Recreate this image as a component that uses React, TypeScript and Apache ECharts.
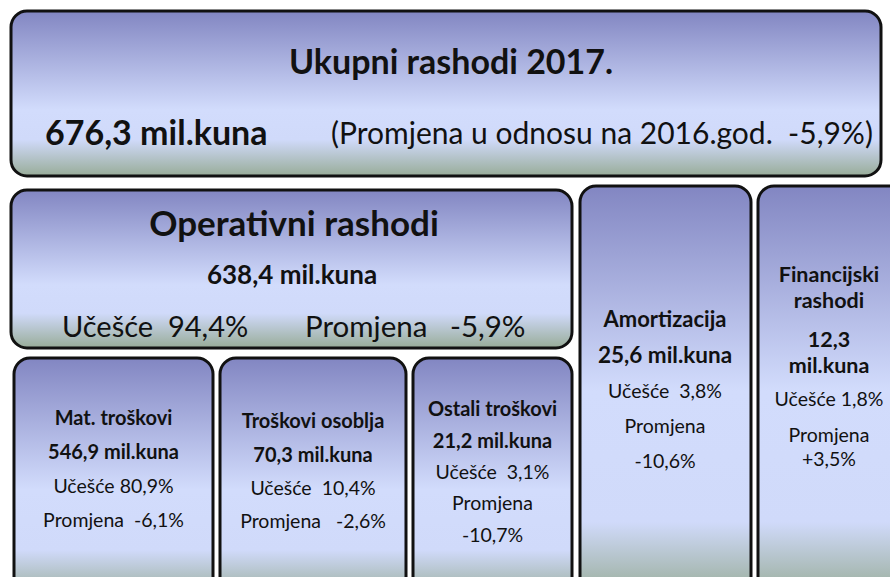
import React, { useEffect, useRef } from "react";
import * as echarts from "echarts";

const FONT = "Lato, 'Open Sans', sans-serif";

// Text content (data)
const totalTitle = "Ukupni rashodi 2017.";
const totalValue = "676,3 mil.kuna";
const totalChange = "(Promjena u odnosu na 2016.god.  -5,9%)";

const opTitle = "Operativni rashodi";
const opValue = "638,4 mil.kuna";
const opShare = "Učešće  94,4%";
const opChange = "Promjena   -5,9%";

const subTitles = ["Mat. troškovi", "Troškovi osoblja", "Ostali troškovi"];
const subValues = ["546,9 mil.kuna", "70,3 mil.kuna", "21,2 mil.kuna"];
const subShares = ["Učešće 80,9%", "Učešće  10,4%", "Učešće  3,1%"];
const subChanges = [["Promjena  -6,1%"], ["Promjena   -2,6%"], ["Promjena", "-10,7%"]];

const amTitle = ["Amortizacija"];
const amValue = ["25,6 mil.kuna"];
const amShare = "Učešće  3,8%";
const amChange = ["Promjena", "-10,6%"];

const finTitle = ["Financijski", "rashodi"];
const finValue = ["12,3", "mil.kuna"];
const finShare = "Učešće 1,8%";
const finChange = ["Promjena", "+3,5%"];

function grad(light: number, green: number) {
  return {
    type: "linear",
    x: 0,
    y: 0,
    x2: 0,
    y2: 1,
    colorStops: [
      { offset: 0, color: "#8286c2" },
      { offset: light, color: "#d2dcfc" },
      { offset: green, color: "#d0dafa" },
      { offset: 1, color: "#98ac98" },
    ],
  };
}

function box(x: number, y: number, w: number, h: number, light = 0.58, green = 0.78) {
  return {
    type: "rect",
    shape: { x, y, width: w, height: h, r: 16 },
    style: { fill: grad(light, green), stroke: "#111111", lineWidth: 3 },
  };
}

function txt(s: string, x: number, y: number, size: number, bold: boolean, align = "center") {
  return {
    type: "text",
    x,
    y,
    style: {
      text: s,
      fontFamily: FONT,
      fontSize: size,
      fontWeight: bold ? "bold" : "normal",
      fill: "#111111",
      textAlign: align,
      textVerticalAlign: "middle",
    },
  };
}

export default function App() {
  const ref = useRef<HTMLDivElement>(null);
  useEffect(() => {
    document.body.style.margin = "0";
    const chart = echarts.init(ref.current!, null, { renderer: "svg" });
    const els: any[] = [];
    // Top box
    els.push(box(11, 11, 870, 165, 0.6, 0.78));
    els.push(txt(totalTitle, 451, 60, 34, true));
    els.push(txt(totalValue, 45, 131, 34, true, "left"));
    els.push(txt(totalChange, 331, 132, 30, false, "left"));
    // Operativni
    els.push(box(11, 190, 561, 158, 0.6, 0.78));
    els.push(txt(opTitle, 294, 222, 35, true));
    els.push(txt(opValue, 292, 274, 26, true));
    els.push(txt(opShare, 62, 325, 29, false, "left"));
    els.push(txt(opChange, 305, 325, 29.5, false, "left"));
    // Sub boxes
    const subX = [14, 220, 413];
    const subW = [199, 186, 159];
    const subStart = [417, 420, 408];
    const subStep = [34, 33.5, 31.5];
    for (let i = 0; i < 3; i++) {
      els.push(box(subX[i], 358, subW[i], 240, 0.55, 0.8));
      const cx = subX[i] + subW[i] / 2;
      let y = subStart[i];
      els.push(txt(subTitles[i], cx, y, 20, true));
      y += subStep[i];
      els.push(txt(subValues[i], cx, y, 20, true));
      y += subStep[i];
      els.push(txt(subShares[i], cx, y, 19.5, false));
      for (const c of subChanges[i]) {
        y += subStep[i];
        els.push(txt(c, cx, y, 19.5, false));
      }
    }
    // Amortizacija
    els.push(box(580, 186, 171, 410, 0.5, 0.82));
    {
      const cx = 665;
      els.push(txt(amTitle[0], cx, 318, 22, true));
      els.push(txt(amValue[0], cx, 354, 22.5, true));
      els.push(txt(amShare, cx, 390, 19.5, false));
      els.push(txt(amChange[0], cx, 425, 19.5, false));
      els.push(txt(amChange[1], cx, 460, 19.5, false));
    }
    // Financijski
    els.push(box(758, 186, 150, 410, 0.5, 0.82));
    {
      const cx = 829;
      els.push(txt(finTitle[0], cx, 274, 21.5, true));
      els.push(txt(finTitle[1], cx, 300, 21.5, true));
      els.push(txt(finValue[0], cx, 339, 21.5, true));
      els.push(txt(finValue[1], cx, 365, 21.5, true));
      els.push(txt(finShare, cx, 398, 19.5, false));
      els.push(txt(finChange[0], cx, 434, 19.5, false));
      els.push(txt(finChange[1], cx, 458, 19.5, false));
    }
    chart.setOption({
      animation: false,
      backgroundColor: "#ffffff",
      graphic: { elements: els },
    });
    return () => chart.dispose();
  }, []);
  return <div ref={ref} style={{ width: 890, height: 577 }} />;
}
